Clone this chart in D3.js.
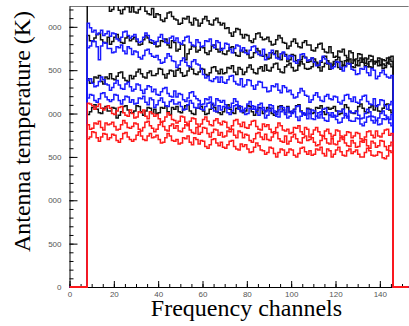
<!DOCTYPE html>
<html>
<head>
<meta charset="utf-8">
<script src="https://cdn.jsdelivr.net/npm/d3@7"></script>
<style>
  body { margin: 0; background: #fff; }
  svg { display: block; }
</style>
</head>
<body>
<figure id="chart" style="margin:0"></figure>
<script>
// histograms fill channels [firstChannel, lastChannel), zero elsewhere
const firstChannel = 8;
const lastChannel = 146;
const axisMax = 153;
const yMax = 3240;

const xTickValues = [0, 20, 40, 60, 80, 100, 120, 140];
const yTickValues = [0, 500, 1000, 1500, 2000, 2500, 3000];
// labels as printed on the (cropped) plot
const yTickLabels = ["0", "500", "000", "500", "000", "500", "000"];

// black spectra
const black1 = [
  3340,3360,3310,3270,3280,3330,3380,3350,3300,3290,
  3180,3200,3260,3250,3190,3150,3200,3240,3230,3170,
  3230,3170,3160,3200,3240,3250,3180,3150,3140,3210,
  3110,3150,3140,3080,3060,3100,3160,3170,3120,3090,
  3080,3030,3040,3100,3090,3120,3050,3020,3100,3080,
  3010,3040,3090,3120,3070,3030,3020,3080,3100,3050,
  3020,3040,2980,2990,2930,2890,2940,2980,2970,2910,
  2870,2910,2900,2840,2820,2860,2920,2930,2880,2850,
  2860,2880,2830,2790,2800,2850,2900,2870,2820,2810,
  2750,2780,2830,2860,2810,2770,2760,2820,2840,2790,
  2790,2730,2720,2760,2800,2810,2740,2710,2700,2770,
  2700,2650,2660,2720,2710,2740,2670,2640,2720,2700,
  2610,2630,2690,2680,2620,2580,2630,2670,2660,2600,
  2600,2640,2630,2570,2550,2590,2650,2660
];
const black2 = [
  2900,2840,2830,2870,2910,2920,2850,2820,2810,2880,
  2800,2830,2880,2910,2860,2820,2810,2870,2890,2840,
  2860,2880,2830,2790,2800,2850,2900,2870,2820,2810,
  2820,2770,2780,2840,2830,2860,2790,2760,2840,2820,
  2720,2740,2800,2790,2620,2690,2740,2780,2770,2710,
  2730,2770,2760,2700,2680,2720,2780,2790,2740,2710,
  2750,2690,2680,2720,2760,2770,2700,2670,2660,2730,
  2710,2730,2680,2640,2650,2700,2750,2720,2670,2660,
  2680,2630,2640,2700,2690,2720,2650,2620,2700,2680,
  2600,2620,2680,2670,2610,2570,2620,2660,2650,2590,
  2600,2640,2630,2570,2550,2590,2650,2660,2610,2580,
  2540,2570,2620,2650,2600,2560,2550,2610,2630,2580,
  2620,2560,2550,2590,2630,2640,2570,2540,2530,2600,
  2590,2610,2560,2520,2530,2580,2630,2600
];
const black3 = [
  2400,2350,2360,2420,2410,2440,2370,2340,2420,2400,
  2460,2400,2390,2430,2470,2480,2410,2380,2370,2440,
  2400,2430,2480,2510,2460,2420,2410,2470,2490,2440,
  2440,2460,2520,2510,2450,2410,2460,2500,2490,2430,
  2500,2520,2470,2430,2440,2490,2540,2510,2460,2450,
  2480,2520,2510,2450,2440,2470,2530,2540,2490,2460,
  2510,2460,2470,2530,2520,2550,2480,2450,2530,2510,
  2450,2480,2530,2560,2510,2470,2460,2520,2540,2490,
  2560,2500,2490,2530,2570,2580,2510,2480,2470,2540,
  2560,2580,2530,2490,2500,2550,2600,2570,2520,2510,
  2520,2540,2600,2590,2530,2490,2540,2580,2570,2510,
  2560,2600,2590,2530,2510,2550,2610,2620,2570,2540,
  2530,2560,2610,2640,2590,2550,2540,2600,2620,2570,
  2600,2550,2560,2620,2610,2640,2570,2540
];
const black4 = [
  1990,2020,2070,2100,2050,2010,2000,2060,2080,2030,
  2030,2070,2060,1950,1980,2020,2080,2090,2040,2010,
  2010,2030,2090,2080,2020,1980,2030,2070,2060,2000,
  2050,2000,2010,2070,2060,2090,2020,1990,2070,2050,
  2080,2020,2010,2050,2090,2100,2030,2000,1990,2060,
  2060,2080,2030,1990,2000,2050,2100,2070,2020,2010,
  1990,2020,2070,2100,2050,2010,2000,2060,2080,2030,
  2010,2030,2090,2080,2020,1980,2030,2070,2060,2000,
  2030,2070,2060,2000,1980,2020,2080,2090,2040,2010,
  2080,2020,2010,2050,2090,2100,2030,2000,1990,2060,
  2050,2000,2010,2070,2060,2090,2020,1990,2070,2050,
  2060,2080,2030,1990,2000,2050,2100,2070,2020,2010,
  2000,2030,2080,2110,2060,2020,2010,2070,2090,2040,
  2090,2030,2020,2060,2100,2110,2040,2010
];

// blue spectra
const blue1 = [
  3040,2990,2940,2960,2910,2930,2960,2900,2920,2950,
  2890,2930,2920,2860,2840,2880,2940,2950,2900,2870,
  2890,2910,2860,2820,2830,2880,2930,2900,2850,2840,
  2800,2830,2880,2910,2860,2820,2810,2870,2890,2840,
  2870,2820,2800,2840,2880,2890,2820,2790,2780,2850,
  2820,2770,2780,2840,2830,2860,2790,2760,2840,2820,
  2730,2750,2810,2800,2740,2700,2750,2790,2780,2720,
  2760,2700,2690,2730,2770,2780,2710,2680,2670,2740,
  2620,2650,2700,2730,2680,2640,2630,2690,2710,2660,
  2630,2670,2660,2600,2580,2620,2680,2690,2640,2610,
  2620,2640,2590,2550,2560,2610,2660,2630,2580,2570,
  2520,2540,2600,2590,2530,2490,2540,2580,2570,2510,
  2500,2450,2460,2520,2510,2540,2470,2440,2520,2500,
  2400,2430,2470,2500,2450,2420,2410,2440
];
const blue2 = [
  2760,2780,2840,2830,2770,2620,2780,2820,2810,2750,
  2750,2700,2710,2770,2760,2790,2720,2690,2770,2750,
  2680,2720,2710,2650,2630,2670,2730,2740,2690,2660,
  2650,2670,2620,2580,2590,2640,2690,2660,2610,2600,
  2530,2560,2610,2640,2590,2550,2540,2600,2620,2570,
  2560,2510,2450,2410,2430,2380,2370,2400,2420,2360,
  2420,2360,2350,2390,2430,2440,2370,2340,2330,2400,
  2310,2330,2390,2380,2320,2280,2330,2370,2360,2300,
  2300,2250,2260,2320,2310,2340,2270,2240,2320,2300,
  2250,2270,2220,2180,2190,2240,2290,2260,2210,2200,
  2130,2160,2210,2240,2190,2150,2140,2200,2220,2170,
  2160,2200,2190,2130,2110,2150,2210,2220,2170,2140,
  2190,2130,2120,2160,2200,2210,2140,2110,2100,2170,
  2080,2100,2160,2150,2090,2050,2100,2140
];
const blue3 = [
  2380,2400,2350,2310,2320,2370,2420,2390,2340,2330,
  2270,2300,2350,2380,2330,2290,2280,2340,2360,2310,
  2260,2280,2340,2330,2270,2230,2280,2320,2310,2250,
  2280,2220,2210,2250,2290,2300,2230,2200,2190,2260,
  2190,2230,2220,2160,2140,2180,2240,2250,2200,2170,
  2150,2100,2110,2170,2160,2190,2120,2090,2170,2150,
  2130,2150,2100,2060,2070,2120,2170,2140,2090,2080,
  2030,2060,2110,2140,2090,2050,2040,2100,2120,2070,
  2020,2040,2100,2090,2030,1990,2040,2080,2070,2010,
  2070,2010,2000,2040,2080,2090,2020,1990,1980,2050,
  2000,2040,2030,1970,1950,1990,2050,2060,2010,1980,
  2010,1960,1970,2030,2020,2050,1980,1950,2030,2010,
  2010,2030,1980,1940,1950,2000,2050,2020,1970,1960,
  1920,1950,2000,2030,1980,1940,1930,1990
];
const blue4 = [
  2180,2220,2210,2150,2130,2170,2230,2240,2190,2160,
  2140,2160,2220,2210,2150,2110,2160,2200,2190,2130,
  2160,2110,2120,2180,2170,2200,2130,2100,2180,2160,
  2070,2100,2150,2180,2130,2090,2080,2140,2160,2110,
  2110,2130,2080,2040,2050,2100,2150,2120,2070,2060,
  2110,2050,2040,2080,2120,2130,2060,2030,2020,2090,
  2040,2080,2070,2010,1990,2030,2090,2100,2050,2020,
  2040,1990,2000,2060,2050,2080,2010,1980,2060,2040,
  1950,1980,2030,2060,2010,1970,1960,2020,2040,1990,
  1950,1970,2030,2020,1960,1920,1970,2010,2000,1940,
  2000,1940,1930,1970,2010,2020,1950,1920,1910,1980,
  1960,1980,1930,1890,1900,1950,2000,1970,1920,1910,
  1910,1950,1940,1880,1860,1900,1960,1970,1920,1890,
  1920,1870,1880,1940,1930,1960,1890,1860
];

// red spectra
const red1 = [
  2120,2110,2090,2050,2080,2110,2060,2040,2070,2090,
  2060,2000,1990,2030,2070,2080,2010,1980,1970,2040,
  2000,1950,1960,2020,2010,2040,1970,1940,2020,2000,
  1970,1990,1940,1900,1910,1960,2010,1980,1930,1920,
  1890,1910,1970,1960,1900,1860,1910,1950,1940,1880,
  1850,1880,1930,1960,1910,1870,1860,1920,1940,1890,
  1870,1910,1900,1840,1820,1860,1920,1930,1880,1850,
  1900,1840,1830,1870,1910,1920,1850,1820,1810,1880,
  1850,1870,1820,1780,1790,1840,1890,1860,1810,1800,
  1820,1770,1780,1840,1830,1860,1790,1760,1840,1820,
  1730,1760,1810,1840,1790,1750,1740,1800,1820,1770,
  1730,1750,1810,1800,1740,1700,1750,1790,1780,1720,
  1740,1780,1770,1710,1690,1730,1790,1800,1750,1720,
  1800,1740,1730,1770,1810,1820,1750,1770
];
const red2 = [
  1870,1820,1830,1890,1880,1910,1840,1810,1890,1870,
  1880,1900,1850,1810,1820,1870,1920,1890,1840,1830,
  1850,1890,1880,1820,1800,1840,1900,1910,1860,1830,
  1790,1820,1870,1900,1850,1810,1800,1860,1880,1830,
  1860,1800,1790,1830,1870,1880,1810,1780,1770,1840,
  1760,1780,1840,1830,1770,1730,1780,1820,1810,1750,
  1780,1730,1740,1800,1790,1820,1750,1720,1800,1780,
  1720,1760,1750,1690,1670,1710,1770,1780,1730,1700,
  1760,1700,1690,1730,1770,1780,1710,1680,1670,1740,
  1650,1680,1730,1760,1710,1670,1660,1720,1740,1690,
  1700,1720,1670,1630,1640,1690,1740,1710,1660,1650,
  1710,1650,1640,1680,1720,1730,1660,1630,1620,1690,
  1660,1610,1620,1680,1670,1700,1630,1600,1680,1660,
  1610,1630,1690,1680,1620,1580,1630,1670
];
const red3 = [
  1710,1730,1790,1780,1720,1680,1730,1770,1760,1700,
  1720,1760,1750,1690,1670,1710,1770,1780,1730,1700,
  1680,1700,1750,1790,1740,1700,1690,1740,1770,1720,
  1730,1750,1700,1660,1670,1720,1770,1740,1690,1680,
  1700,1650,1660,1720,1710,1740,1670,1640,1720,1700,
  1650,1690,1680,1620,1600,1640,1700,1710,1660,1630,
  1670,1610,1600,1640,1680,1690,1620,1590,1580,1650,
  1620,1640,1590,1550,1560,1610,1660,1630,1580,1570,
  1530,1550,1610,1600,1540,1500,1550,1590,1580,1520,
  1550,1590,1580,1520,1500,1540,1600,1610,1560,1530,
  1570,1520,1530,1590,1580,1610,1540,1510,1590,1570,
  1500,1530,1580,1610,1560,1520,1510,1570,1590,1540,
  1560,1580,1530,1500,1500,1550,1600,1570,1520,1510,
  1520,1560,1550,1490,1480,1510,1570,1550
];

const groups = [
  { color: "#111", sets: [black1, black2, black3, black4] },
  { color: "#1a1aff", sets: [blue1, blue2, blue3, blue4] },
  { color: "#ff1a1a", sets: [red1, red2, red3] }
];

const width = 409, height = 326;

const svg = d3.select("figure#chart")
  .append("svg")
  .attr("width", width)
  .attr("height", height);

const x = d3.scaleLinear().domain([0, 150]).range([69.5, 402]);
const y = d3.scaleLinear().domain([0, yMax]).range([287, 6]);

// clip to the frame
svg.append("clipPath").attr("id", "frame")
  .append("rect")
  .attr("x", x(0)).attr("y", y(yMax))
  .attr("width", x(axisMax) - x(0)).attr("height", y(0) - y(yMax) + 1);

// frame top edge
svg.append("line")
  .attr("x1", x(0)).attr("x2", x(axisMax))
  .attr("y1", y(yMax) + 0.5).attr("y2", y(yMax) + 0.5)
  .attr("stroke", "#777").attr("stroke-width", 1);

// minor ticks, no labels
svg.append("g")
  .attr("transform", "translate(" + x(0) + ",0)")
  .call(d3.axisLeft(y).tickValues(d3.range(0, yMax, 100)).tickSize(-4))
  .call(g => g.select(".domain").remove())
  .call(g => g.selectAll("text").remove());
svg.append("g")
  .attr("transform", "translate(0," + y(0) + ")")
  .call(d3.axisBottom(x).tickValues(d3.range(0, axisMax, 5)).tickSize(-3))
  .call(g => g.select(".domain").remove())
  .call(g => g.selectAll("text").remove());

// main axes
const yAxis = svg.append("g")
  .attr("transform", "translate(" + x(0) + ",0)")
  .call(d3.axisLeft(y).tickValues(yTickValues)
    .tickFormat((d, i) => yTickLabels[i])
    .tickSizeInner(-8).tickSizeOuter(0).tickPadding(8));

const xAxis = svg.append("g")
  .attr("transform", "translate(0," + y(0) + ")")
  .call(d3.axisBottom(x.copy().domain([0, axisMax]).range([x(0), x(axisMax)]))
    .tickValues(xTickValues)
    .tickSizeInner(-6).tickSizeOuter(0).tickPadding(4));

[yAxis, xAxis].forEach(g => {
  g.attr("font-family", "'Liberation Sans', Arial, sans-serif").attr("font-size", 8);
  g.selectAll("text").attr("fill", "#555");
});

// step outline for one histogram, zero bins outside the filled range
function steps(vals) {
  const pts = [];
  for (let c = 0; c < axisMax; c++) {
    const v = (c >= firstChannel && c < lastChannel) ? vals[c - firstChannel] : 0;
    pts.push([c, v]);
  }
  pts.push([axisMax, 0]);
  return pts;
}

const line = d3.line()
  .x(d => x(d[0]))
  .y(d => y(d[1]))
  .curve(d3.curveStepAfter);

const plot = svg.append("g").attr("clip-path", "url(#frame)");

groups.forEach(grp => {
  plot.selectAll(null)
    .data(grp.sets)
    .enter()
    .append("path")
    .attr("d", d => line(steps(d)))
    .attr("fill", "none")
    .attr("stroke", grp.color)
    .attr("stroke-width", 1.5);
});

// axis titles
svg.append("text")
  .attr("x", 246.5).attr("y", 316)
  .attr("text-anchor", "middle")
  .style("font-family", "'Liberation Serif', 'Times New Roman', serif")
  .style("font-size", "24px")
  .text("Frequency channels");

svg.append("text")
  .attr("transform", "translate(30,131.5) rotate(-90)")
  .attr("text-anchor", "middle")
  .style("font-family", "'Liberation Serif', 'Times New Roman', serif")
  .style("font-size", "24px")
  .text("Antenna temperature (K)");
</script>
</body>
</html>
